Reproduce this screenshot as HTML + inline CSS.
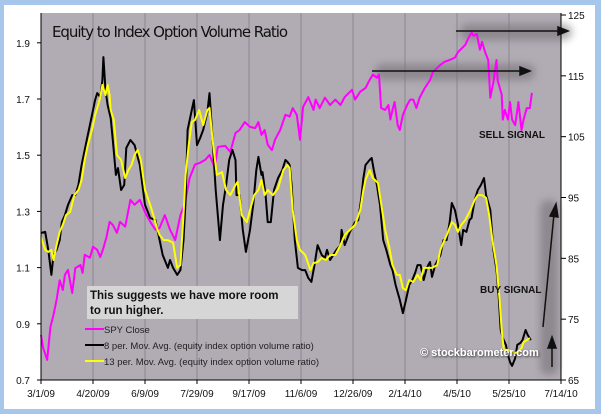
<!DOCTYPE html>
<html><head><meta charset="utf-8"><style>
html,body{margin:0;padding:0;background:#a7c6ec;}
svg{display:block;font-family:"Liberation Sans",sans-serif;}
</style></head><body>
<svg id="chart" width="601" height="414" viewBox="0 0 601 414" xmlns="http://www.w3.org/2000/svg">
<defs>
<filter id="blur" x="-30%" y="-200%" width="160%" height="500%"><feGaussianBlur stdDeviation="4"/></filter>
<filter id="tshadow"><feDropShadow dx="1" dy="1" stdDeviation="1" flood-color="#333"/></filter>
</defs>
<rect x="0" y="0" width="601" height="414" fill="#a7c6ec"/>
<rect x="4" y="5" width="591" height="404" fill="#ffffff"/>
<rect x="41" y="13" width="520" height="367" fill="#b1abb4"/>
<g id="grid"></g>
<g id="shadows">
<rect x="375" y="64" width="160" height="16" rx="8" fill="#6f6a70" opacity="0.55" filter="url(#blur)"/>
<rect x="460" y="24" width="112" height="16" rx="8" fill="#6f6a70" opacity="0.55" filter="url(#blur)"/>
<rect x="540" y="200" width="18" height="175" rx="8" fill="#6f6a70" opacity="0.55" filter="url(#blur)"/>
</g>
<g id="series"></g>
<g id="axes"></g>
<text x="52" y="37" font-size="15" fill="#111" font-family="'DejaVu Sans',sans-serif" textLength="236">Equity to Index Option Volume Ratio</text>
<g stroke="#111" stroke-width="1.5" fill="#111">
<line x1="372" y1="71" x2="522" y2="71"/>
<polygon points="530,71 520,67 520,75"/>
<line x1="456" y1="31" x2="560" y2="31"/>
<polygon points="568,31 558,27 558,35"/>
<line x1="543" y1="327" x2="554" y2="214"/>
<polygon points="556,204 550,216 558,217"/>
<line x1="552" y1="367" x2="552" y2="346"/>
<polygon points="552,337 548,348 556,348"/>
</g>
<text x="479" y="138" font-size="10" font-weight="bold" fill="#111">SELL SIGNAL</text>
<text x="480" y="293" font-size="10" font-weight="bold" fill="#111">BUY SIGNAL</text>
<rect x="87" y="286" width="211" height="33" fill="#d6d6d6"/>
<text x="90" y="299" font-size="11.5" font-weight="bold" fill="#111">This suggests we have more room</text>
<text x="90" y="314" font-size="11.5" font-weight="bold" fill="#111">to run higher.</text>
<g font-size="9.5" fill="#222">
<line x1="85" y1="329" x2="104" y2="329" stroke="#ff00ff" stroke-width="2"/>
<text x="104" y="333">SPY Close</text>
<line x1="85" y1="345" x2="104" y2="345" stroke="#000" stroke-width="2"/>
<text x="104" y="349">8 per. Mov. Avg. (equity index option volume ratio)</text>
<line x1="85" y1="361" x2="104" y2="361" stroke="#ffff00" stroke-width="2"/>
<text x="104" y="365">13 per. Mov. Avg. (equity index option volume ratio)</text>
</g>
<text x="420" y="356" font-size="11" font-weight="bold" fill="#fff" filter="url(#tshadow)">© stockbarometer.com</text>
</svg>
<script>
const xTickLabels = ["3/1/09","4/20/09","6/9/09","7/29/09","9/17/09","11/6/09","12/26/09","2/14/10","4/5/10","5/25/10","7/14/10"];
const leftTicks = [0.7,0.9,1.1,1.3,1.5,1.7,1.9];
const rightTicks = [65,75,85,95,105,115,125];
const spyDays = [0,2,6,9,12,15,18,21,23,26,30,33,38,40,42,47,50,54,57,60,63,66,69,73,76,81,86,90,95,100,105,110,114,119,124,129,134,138,143,148,153,158,162,167,170,177,182,187,191,196,201,206,209,212,215,218,222,225,230,235,239,242,246,249,252,257,262,264,268,273,278,283,288,292,299,302,307,312,316,319,323,325,327,331,334,336,338,340,343,345,348,352,355,358,361,364,369,374,377,379,384,388,393,398,401,405,408,411,414,416,419,422,424,427,430,432,435,438,439,443,444,446,449,451,453,456,459,462,464,467,470,472];
const spyClose = [72.4,70.3,68.3,73.7,75.7,78.2,81.4,79.8,82.3,83.1,79.3,83.4,83.9,82.6,85.6,85.1,86.9,86.4,85.2,86.7,88.5,91.0,90.5,89.2,91.0,90.2,94.6,93.8,94.6,92.6,91.0,89.7,90.0,92.1,89.7,88.0,92.1,93.8,98.2,100.4,100.7,101.2,102.0,99.9,103.3,103.5,102.5,105.6,106.1,107.4,106.6,106.4,107.4,105.3,106.1,103.7,102.8,104.5,106.1,108.6,108.3,109.7,108.6,104.5,109.9,111.5,109.4,111.1,109.7,111.4,110.2,111.1,110.2,111.5,112.7,111.1,112.4,113.0,114.3,115.2,114.7,115.2,109.7,109.4,110.2,107.8,109.4,110.7,106.9,106.1,108.6,110.2,111.1,111.1,109.7,111.4,113.0,114.3,115.7,116.0,116.8,117.3,117.6,118.0,118.9,119.6,120.1,121.2,122.1,121.6,121.9,119.3,120.6,118.9,117.6,111.4,114.0,117.6,114.3,111.9,107.8,109.4,107.8,110.7,107.8,106.9,110.7,106.1,107.8,109.7,109.7,112.2];
const ma8Days = [0,4,7,10,12,15,18,20,23,26,30,33,36,39,42,45,49,52,54,57,59,60,62,64,67,69,72,74,77,80,82,86,90,95,100,105,110,114,117,122,124,127,131,134,137,139,141,145,147,150,153,156,160,162,165,168,172,175,178,181,184,187,188,191,194,197,201,204,207,209,212,213,216,218,221,224,228,232,235,237,239,241,244,247,251,254,257,260,263,266,270,273,275,278,281,284,288,289,292,297,302,305,308,310,312,316,318,320,323,326,329,332,336,338,341,345,348,351,354,357,360,362,365,368,371,374,376,379,384,387,390,393,395,398,401,404,406,409,412,414,417,420,423,426,428,432,435,438,440,442,444,447,449,451,453,456,458,461,463,466,468,471];
const ma8 = [1.223,1.227,1.163,1.074,1.145,1.163,1.198,1.262,1.287,1.323,1.358,1.358,1.394,1.465,1.519,1.572,1.643,1.696,1.721,1.707,1.768,1.849,1.732,1.679,1.632,1.554,1.430,1.454,1.376,1.394,1.526,1.554,1.536,1.465,1.323,1.277,1.269,1.198,1.145,1.099,1.127,1.099,1.074,1.091,1.198,1.341,1.590,1.661,1.696,1.536,1.561,1.590,1.654,1.721,1.554,1.376,1.198,1.323,1.394,1.483,1.519,1.483,1.358,1.358,1.234,1.156,1.234,1.323,1.447,1.494,1.430,1.440,1.358,1.262,1.262,1.376,1.419,1.447,1.483,1.476,1.465,1.394,1.198,1.099,1.091,1.091,1.063,1.049,1.109,1.180,1.145,1.134,1.163,1.127,1.145,1.163,1.180,1.234,1.180,1.227,1.262,1.269,1.348,1.419,1.465,1.483,1.490,1.447,1.394,1.323,1.198,1.163,1.109,1.091,1.038,0.985,0.938,0.985,1.038,1.056,1.084,1.109,1.109,1.056,1.099,1.120,1.067,1.109,1.145,1.198,1.198,1.262,1.330,1.305,1.252,1.180,1.234,1.227,1.269,1.277,1.341,1.376,1.394,1.419,1.358,1.305,1.163,1.091,1.002,0.878,0.849,0.825,0.789,0.764,0.750,0.778,0.825,0.832,0.842,0.878,0.860,0.842];
const ma13Days = [0,4,7,10,12,15,18,21,24,28,32,36,39,42,45,49,52,55,57,59,62,64,66,67,70,73,77,81,84,87,90,93,96,100,105,108,112,114,118,122,127,131,134,137,139,142,145,148,152,156,160,162,165,169,174,178,182,187,189,193,198,201,205,209,212,215,218,223,228,233,237,239,242,246,249,254,259,262,266,270,274,278,283,288,292,297,302,307,310,312,316,319,324,328,331,335,338,342,345,348,351,354,358,362,365,368,372,376,381,384,388,391,395,398,401,404,408,413,417,420,424,428,431,434,438,441,443,445,449,453,456,459,462,464,467,470];
const ma13 = [1.209,1.163,1.156,1.163,1.127,1.180,1.227,1.252,1.287,1.298,1.358,1.376,1.412,1.483,1.536,1.590,1.643,1.679,1.707,1.750,1.714,1.750,1.714,1.661,1.625,1.501,1.483,1.419,1.447,1.465,1.501,1.519,1.483,1.376,1.323,1.287,1.234,1.216,1.198,1.198,1.188,1.099,1.109,1.287,1.430,1.536,1.618,1.625,1.661,1.607,1.661,1.668,1.554,1.430,1.440,1.376,1.358,1.394,1.405,1.287,1.262,1.305,1.358,1.376,1.412,1.358,1.376,1.358,1.383,1.447,1.465,1.454,1.305,1.198,1.163,1.145,1.091,1.116,1.120,1.134,1.127,1.145,1.145,1.180,1.216,1.234,1.252,1.305,1.376,1.412,1.447,1.419,1.401,1.305,1.234,1.170,1.109,1.074,1.074,1.027,1.020,1.056,1.049,1.074,1.056,1.099,1.099,1.099,1.109,1.163,1.198,1.223,1.262,1.252,1.227,1.252,1.269,1.305,1.341,1.358,1.358,1.348,1.287,1.198,1.109,0.985,0.878,0.807,0.807,0.800,0.796,0.800,0.814,0.835,0.842,0.849];

const NS='http://www.w3.org/2000/svg';
const X0=41,X1=561,YT=13,YB=380,DAYS=500;
function xScale(d){return X0+(d/DAYS)*(X1-X0);}
function yLeft(v){return YB-(v-0.7)*281;}
function yRight(v){return YB-(v-65)/60*(YB-15);}
function mk(tag,attrs,parent){const e=document.createElementNS(NS,tag);for(const k in attrs)e.setAttribute(k,attrs[k]);parent.appendChild(e);return e;}
const grid=document.getElementById('grid'),axes=document.getElementById('axes'),series=document.getElementById('series');
xTickLabels.forEach((lab,i)=>{
  const x=xScale(i*50);
  if(i>0&&i<xTickLabels.length-1){const g=mk('line',{x1:x,y1:YT,x2:x,y2:YB,stroke:'#8c8790','stroke-width':1},grid);
  
  }
  const t=mk('line',{x1:x,y1:YB,x2:x,y2:YB+4,stroke:'#000'},axes);
  
  
  const tx=mk('text',{x:x,y:397,'font-size':10,'text-anchor':'middle',fill:'#111'},axes);tx.textContent=lab;
  
  
});
const la=mk('line',{x1:X0,y1:YT,x2:X0,y2:YB,stroke:'#000','stroke-width':1},axes);


const ra=mk('line',{x1:X1,y1:YT,x2:X1,y2:YB,stroke:'#000','stroke-width':1},axes);


const ba=mk('line',{x1:X0,y1:YB,x2:X1,y2:YB,stroke:'#000','stroke-width':1},axes);


leftTicks.forEach(v=>{
  const y=yLeft(v);
  const t=mk('line',{x1:X0-4,y1:y,x2:X0,y2:y,stroke:'#000'},axes);
  
  
  const tx=mk('text',{x:30,y:y+4,'font-size':10,'text-anchor':'end',fill:'#111'},axes);tx.textContent=v.toFixed(1);
  
  
});
rightTicks.forEach(v=>{
  const y=yRight(v);
  const t=mk('line',{x1:X1,y1:y,x2:X1+5,y2:y,stroke:'#000'},axes);
  
  
  const tx=mk('text',{x:568,y:y+4,'font-size':10,fill:'#111'},axes);tx.textContent=v;
  
  
});
function line(days,vals,ys,color,name){
  const pts=days.map((d,i)=>xScale(d).toFixed(1)+','+ys(vals[i]).toFixed(1)).join(' ');
  const p=mk('polyline',{points:pts,fill:'none',stroke:color,'stroke-width':2,'stroke-linejoin':'round'},series);
  
  
}
line(spyDays,spyClose,yRight,'#ff00ff','spy-close-line');
line(ma8Days,ma8,yLeft,'#000000','ma8-line');
line(ma13Days,ma13,yLeft,'#ffff00','ma13-line');
</script>
</body></html>
